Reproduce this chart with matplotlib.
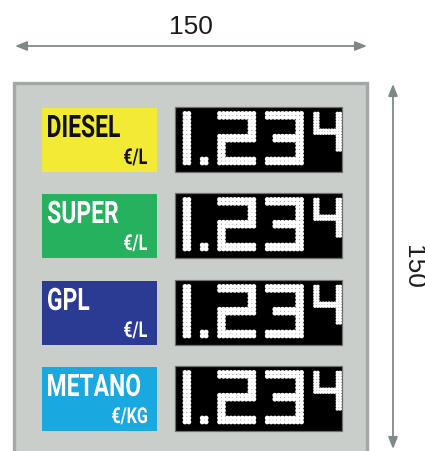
import numpy as np
import matplotlib
matplotlib.use('Agg')
import matplotlib.pyplot as plt
from matplotlib.patches import Rectangle, PathPatch
from matplotlib.textpath import TextPath
from matplotlib.font_manager import FontProperties
from matplotlib.transforms import Affine2D

# sign content
fuels = ['DIESEL', 'SUPER', 'GPL', 'METANO']
units = ['€/L', '€/L', '€/L', '€/KG']
box_colors = ['#f3ea36', '#25b15d', '#2b3a93', '#1aa8e0']
text_colors = ['#111111', 'white', 'white', 'white']
price = '1.234'
width_label = '150'
height_label = '150'

# 5x7 dot-matrix glyphs (each pixel = 2x2 leds)
glyphs = {
    '1': ['X'] * 7,
    '.': ['.', '.', '.', '.', '.', '.', 'X'],
    '2': ['XXXXX', '....X', '....X', 'XXXXX', 'X....', 'X....', 'XXXXX'],
    '3': ['XXXXX', '....X', '....X', '.XXXX', '....X', '....X', 'XXXXX'],
    '4': ['X...X', 'X...X', 'X...X', 'XXXXX', '....X', '....X', '....X'],
}

fig = plt.figure(figsize=(4.25, 4.52), dpi=100)
ax = fig.add_axes([0, 0, 1, 1])
ax.set_xlim(0, 425)
ax.set_ylim(452, 0)
ax.axis('off')

fp = FontProperties(family='Roboto', weight='bold')
cap_ref = TextPath((0, 0), 'H', size=100, prop=fp).get_extents().height


def draw_label(s, x, y, cap, ha, color, condense=0.74):
    tp = TextPath((0, 0), s, size=100, prop=fp)
    k = cap / cap_ref
    sx = k * condense
    ext = tp.get_extents()
    dx = x - ext.x1 * sx if ha == 'right' else x - ext.x0 * sx
    path = Affine2D().scale(sx, -k).translate(dx, y).transform_path(tp)
    ax.add_patch(PathPatch(path, fc=color, ec='none', zorder=5))


def draw_price(text, x0, top):
    xs, ys, ss = [], [], []
    cur = x0
    for i, ch in enumerate(text):
        small = (i == len(text) - 1)
        pitch = 2.8 if small else 3.8
        size = 7 if small else 12.5
        rows = glyphs[ch]
        ncol = len(rows[0])
        for r, row in enumerate(rows):
            for c, v in enumerate(row):
                if v != 'X':
                    continue
                for dr in range(2):
                    for dc in range(2):
                        xs.append(cur + (2 * c + dc) * pitch)
                        ys.append(top + (2 * r + dr) * pitch)
                        ss.append(size)
        cur += (2 * ncol - 1) * pitch + 13.5
    ax.scatter(xs, ys, s=ss, c='white', edgecolors='none', zorder=6)


# dimension arrows
arrow_kw = dict(arrowstyle='<|-|>,head_length=0.7,head_width=0.28',
                color='#7f8888', lw=1.3, shrinkA=0, shrinkB=0)
ax.annotate('', xy=(367, 47), xytext=(15, 47), arrowprops=arrow_kw)
ax.annotate('', xy=(393, 450), xytext=(393, 85), arrowprops=arrow_kw)
ax.text(191, 27, width_label, ha='center', va='center', fontsize=19,
        family='Liberation Sans', color='#1c1c1c')
ax.text(413, 267, height_label, ha='center', va='center', fontsize=19,
        family='Liberation Sans', color='#1c1c1c', rotation=-90)

# panel
ax.add_patch(Rectangle((14, 84), 353, 420, fc='#c9cecb', ec='#a3a8a7', lw=2.4, zorder=1))

tops = [109, 195, 282, 368]
for name, unit, bc, tc, top in zip(fuels, units, box_colors, text_colors, tops):
    ax.add_patch(Rectangle((42, top), 115, 64, fc=bc, ec='none', zorder=2))
    draw_label(name, 48, top + 29, 22, 'left', tc)
    draw_label(unit, 147, top + 56, 15.5, 'right', tc)
    ax.add_patch(Rectangle((175, top - 1), 167, 65, fc='black', ec='#6e6e6e', lw=0.9, zorder=2))
    draw_price(price, 185, top + 5.5)

fig.savefig('out.png', dpi=100)
